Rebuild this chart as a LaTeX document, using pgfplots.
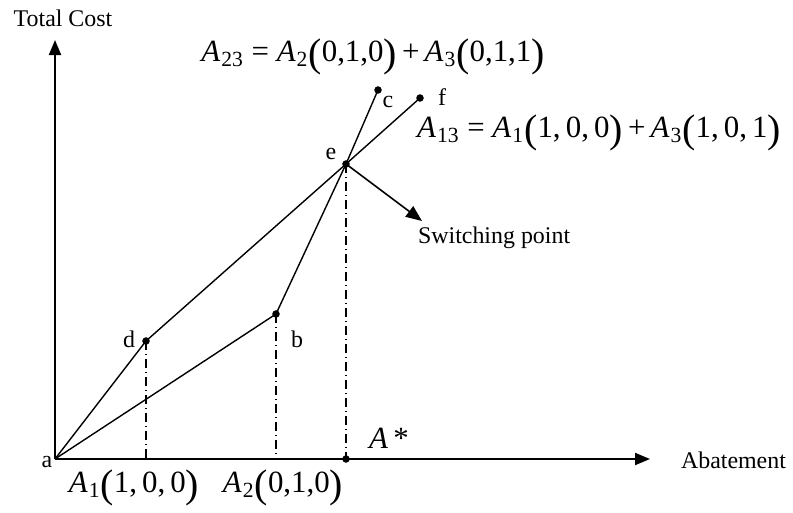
\documentclass[border=0pt]{standalone}
\usepackage{pgfplots}
\pgfplotsset{compat=1.18}
\usetikzlibrary{arrows.meta}
\usepackage{fontspec}
\setmainfont{Liberation Serif}
% formula pieces: italic A, upright subscripts, tall parentheses
\newcommand{\Asub}[1]{\textit{A}\kern0.5pt\textsubscript{#1}}
\newcommand{\lp}{{\fontsize{20}{20}\selectfont\raisebox{-0.12em}{(}}}
\newcommand{\rp}{{\fontsize{20}{20}\selectfont\raisebox{-0.12em}{)}}}
\tikzset{
    lbl/.style={font=\fontsize{12}{14}\selectfont},
    frm/.style={font=\fontsize{15.5}{18}\selectfont},
}
\begin{document}
\begin{tikzpicture}
\begin{axis}[
    x=0.5bp, y=0.5bp,
    xmin=0, xmax=793, ymin=0, ymax=510,
    hide axis,
    clip=false,
    every axis plot/.append style={black, line width=0.7bp},
]
% axes
\addplot[line width=1bp, -{Triangle[length=7.5bp,width=6bp]}] coordinates {(55,51) (55,470)};
\addplot[line width=1bp, -{Triangle[length=7.5bp,width=6bp]}] coordinates {(55,51) (650,51)};
% cost curves a-d-e-c and a-b-e-f
\addplot[no marks] coordinates {(55,51) (146,169) (346,346) (378,420)};
\addplot[no marks] coordinates {(55,51) (276,196) (346,346) (420,412)};
% projections to the abatement axis
\addplot[no marks, line width=0.6bp, dash pattern=on 4.5bp off 2bp on 0.5bp off 2bp] coordinates {(146,169) (146,51)};
\addplot[no marks, line width=0.6bp, dash pattern=on 4.5bp off 2bp on 0.5bp off 2bp] coordinates {(276,196) (276,51)};
\addplot[no marks, line width=0.6bp, dash pattern=on 4.5bp off 2bp on 0.5bp off 2bp] coordinates {(346,346) (346,51)};
% switching point arrow
\addplot[line width=0.8bp, -{Triangle[length=8bp,width=6.5bp]}] coordinates {(346,346) (422,289)};
% points
\addplot[only marks, mark=*, mark size=1.5bp] coordinates {(146,169) (276,196) (346,346) (378,420) (420,412) (346,51)};
% labels
\node[lbl] at (axis cs:63,492) {Total Cost};
\node[lbl, anchor=west] at (axis cs:674,50) {Abatement};
\node[lbl] at (axis cs:47,48) {a};
\node[lbl] at (axis cs:129,171) {d};
\node[lbl] at (axis cs:297,171) {b};
\node[lbl] at (axis cs:331,356) {e};
\node[lbl] at (axis cs:388,408) {c};
\node[lbl] at (axis cs:442,413) {f};
\node[lbl, anchor=west] at (axis cs:411,272) {Switching point};
\node[frm] at (axis cs:373,453) {\Asub{23} = \Asub{2}\lp0,1,0\rp\,+\,\Asub{3}\lp0,1,1\rp};
\node[frm] at (axis cs:599,377) {\Asub{13} = \Asub{1}\lp1,\,0,\,0\rp\,+\,\Asub{3}\lp1,\,0,\,1\rp};
\node[frm] at (axis cs:389,72) {\textit{A}\,*};
\node[frm] at (axis cs:134,22) {\Asub{1}\lp1,\,0,\,0\rp};
\node[frm] at (axis cs:283,22) {\Asub{2}\lp0,1,0\rp};
\path (axis cs:0,0) (axis cs:793,510);
\end{axis}
\end{tikzpicture}
\end{document}
